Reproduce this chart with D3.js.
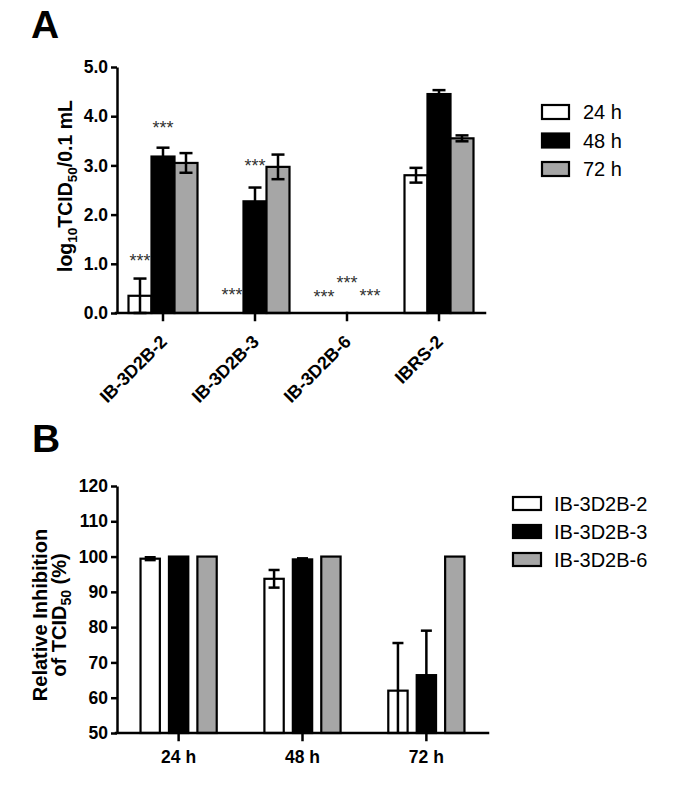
<!DOCTYPE html>
<html><head><meta charset="utf-8">
<script src="https://cdn.jsdelivr.net/npm/d3@7"></script>
<style>
body{margin:0;background:#fff}
svg{display:block}
text{font-family:"Liberation Sans",Arial,Helvetica,sans-serif}
</style>
</head><body>
<svg id="chart" width="685" height="787"></svg>
<script>
// ---------- Panel A data ----------
const categoriesA = ["IB-3D2B-2", "IB-3D2B-3", "IB-3D2B-6", "IBRS-2"];
const seriesA = ["24 h", "48 h", "72 h"];
const valuesA_24h = [0.35, 0.00, 0.00, 2.80];
const valuesA_48h = [3.18, 2.27, 0.00, 4.45];
const valuesA_72h = [3.05, 2.97, 0.00, 3.55];
const errorsA_24h = [0.35, 0.00, 0.00, 0.15];
const errorsA_48h = [0.18, 0.28, 0.00, 0.08];
const errorsA_72h = [0.20, 0.25, 0.00, 0.06];
const ticksA = [0, 1, 2, 3, 4, 5];
// significance marks: category index, series index, level (log10 units)
const starsA = [[0, 0, 1.14], [0, 1, 3.84], [1, 0, 0.45], [1, 1, 3.07], [2, 0, 0.41], [2, 1, 0.69], [2, 2, 0.43]];

// ---------- Panel B data ----------
const categoriesB = ["24 h", "48 h", "72 h"];
const seriesB = ["IB-3D2B-2", "IB-3D2B-3", "IB-3D2B-6"];
const valuesB_2 = [99.4, 93.7, 62.0];
const valuesB_3 = [100.0, 99.2, 66.4];
const valuesB_6 = [100.0, 100.0, 100.0];
const errorsB_2 = [0.4, 2.5, 13.5];
const errorsB_3 = [0.0, 0.3, 12.6];
const errorsB_6 = [0.0, 0.0, 0.0];
const ticksB = [50, 60, 70, 80, 90, 100, 110, 120];

const fills = ["#ffffff", "#000000", "#a6a6a6"];

const svg = d3.select("#chart");

function drawPanel(cfg) {
  const g = svg.append("g");
  const x0 = d3.scaleBand().domain(cfg.categories).range([cfg.left, cfg.right])
    .paddingInner(cfg.padIn).paddingOuter(cfg.padOut);
  const x1 = d3.scaleBand().domain(d3.range(cfg.series.length)).range([0, x0.bandwidth()])
    .paddingInner(cfg.subPad).paddingOuter(0);
  const y = d3.scaleLinear().domain(cfg.domain).range([cfg.bottom, cfg.top]);

  const data = [];
  cfg.categories.forEach((c, i) => {
    cfg.series.forEach((s, j) => {
      data.push({c, i, j, v: cfg.values[j][i], e: cfg.errors[j][i]});
    });
  });

  // bars
  g.selectAll("rect.bar").data(data).join("rect")
    .attr("class", "bar")
    .attr("x", d => x0(d.c) + x1(d.j))
    .attr("width", x1.bandwidth())
    .attr("y", d => y(Math.max(d.v, cfg.domain[0])))
    .attr("height", d => Math.max(0, y(cfg.domain[0]) - y(Math.max(d.v, cfg.domain[0]))))
    .attr("fill", d => fills[d.j])
    .attr("stroke", "#000")
    .attr("stroke-width", 2.2)
    .attr("visibility", d => d.v > cfg.domain[0] ? "visible" : "hidden");

  // error bars
  const eb = data.filter(d => d.e > 0);
  const eg = g.append("g").attr("stroke", "#000").attr("stroke-width", 2.5).attr("fill", "none");
  eb.forEach(d => {
    const cx = x0(d.c) + x1(d.j) + x1.bandwidth() / 2;
    const hi = d.v + d.e, lo = Math.max(d.v - d.e, cfg.domain[0]);
    eg.append("line").attr("x1", cx).attr("x2", cx).attr("y1", y(lo)).attr("y2", y(hi));
    eg.append("line").attr("x1", cx - cfg.cap / 2).attr("x2", cx + cfg.cap / 2).attr("y1", y(hi)).attr("y2", y(hi));
    if (d.v - d.e >= cfg.domain[0]) {
      eg.append("line").attr("x1", cx - cfg.cap / 2).attr("x2", cx + cfg.cap / 2).attr("y1", y(lo)).attr("y2", y(lo));
    }
  });

  // axes
  const yAxis = d3.axisLeft(y).tickValues(cfg.ticks).tickFormat(cfg.fmt)
    .tickSize(6).tickSizeOuter(0).tickPadding(3);
  const ya = g.append("g").attr("transform", `translate(${cfg.left},0)`).call(yAxis);
  ya.attr("font-family", null).attr("font-size", null);
  ya.selectAll("text").attr("font-size", 17.5).attr("font-weight", "bold").attr("fill", "#000");
  ya.selectAll("line,path").attr("stroke", "#000").attr("stroke-width", 2.5);

  const xAxis = d3.axisBottom(x0).tickSize(7).tickSizeOuter(0).tickFormat("");
  const xa = g.append("g").attr("transform", `translate(0,${cfg.bottom})`).call(xAxis);
  xa.select("path.domain").attr("d", `M${cfg.left - 1},0H${cfg.right}`);
  xa.selectAll("line,path").attr("stroke", "#000").attr("stroke-width", 2.5).attr("stroke-linecap", "square");

  return {g, x0, x1, y};
}

// ---------- Panel A ----------
const A = drawPanel({
  categories: categoriesA, series: seriesA,
  values: [valuesA_24h, valuesA_48h, valuesA_72h],
  errors: [errorsA_24h, errorsA_48h, errorsA_72h],
  left: 117, right: 485, top: 67, bottom: 313,
  padIn: 0.25, padOut: 0.125, subPad: 0,
  domain: [0, 5], ticks: ticksA, fmt: d3.format(".1f"), cap: 13
});

// x labels rotated
A.g.selectAll("text.xl").data(categoriesA).join("text")
  .attr("class", "xl")
  .attr("transform", d => `translate(${A.x0(d) + A.x0.bandwidth() / 2 + 5},${343}) rotate(-45)`)
  .attr("text-anchor", "end")
  .attr("font-size", 18).attr("font-weight", "bold")
  .text(d => d);

// significance stars
A.g.selectAll("text.star").data(starsA).join("text")
  .attr("class", "star")
  .attr("x", d => A.x0(categoriesA[d[0]]) + A.x1(d[1]) + A.x1.bandwidth() / 2)
  .attr("y", d => A.y(d[2]) + 10)
  .attr("text-anchor", "middle")
  .attr("font-size", 18).attr("fill", "#333")
  .text("***");

// y title A
const tA = svg.append("text")
  .attr("transform", "translate(72,186) rotate(-90)")
  .attr("text-anchor", "middle")
  .attr("font-size", 19.5).attr("font-weight", "bold");
tA.append("tspan").text("log");
tA.append("tspan").attr("font-size", 13.5).attr("dy", 5).text("10");
tA.append("tspan").attr("dy", -5).text("TCID");
tA.append("tspan").attr("font-size", 13.5).attr("dy", 5).text("50");
tA.append("tspan").attr("dy", -5).text("/0.1 mL");

// legend A
const legA = svg.append("g");
seriesA.forEach((s, j) => {
  const cy = 112 + j * 28.5;
  legA.append("rect").attr("x", 542).attr("y", cy - 7).attr("width", 27).attr("height", 14)
    .attr("fill", fills[j]).attr("stroke", "#000").attr("stroke-width", 2.2);
  legA.append("text").attr("x", 583).attr("y", cy + 7).attr("font-size", 20).text(s);
});

svg.append("text").attr("x", 31).attr("y", 38).attr("font-size", 39).attr("font-weight", "bold").text("A");

// ---------- Panel B ----------
const B = drawPanel({
  categories: categoriesB, series: seriesB,
  values: [valuesB_2, valuesB_3, valuesB_6],
  errors: [errorsB_2, errorsB_3, errorsB_6],
  left: 117, right: 488, top: 486, bottom: 733,
  padIn: 0.385, padOut: 0.19, subPad: 0.32,
  domain: [50, 120], ticks: ticksB, fmt: d3.format("d"), cap: 11
});

B.g.selectAll("text.xl").data(categoriesB).join("text")
  .attr("class", "xl")
  .attr("x", d => B.x0(d) + B.x0.bandwidth() / 2)
  .attr("y", 763)
  .attr("text-anchor", "middle")
  .attr("font-size", 17.5).attr("font-weight", "bold")
  .text(d => d);

const tB = svg.append("text")
  .attr("transform", "translate(46.5,615) rotate(-90)")
  .attr("text-anchor", "middle")
  .attr("font-size", 20).attr("font-weight", "bold");
tB.append("tspan").text("Relative Inhibition");
const tB2 = svg.append("text")
  .attr("transform", "translate(65.5,615) rotate(-90)")
  .attr("text-anchor", "middle")
  .attr("font-size", 20).attr("font-weight", "bold");
tB2.append("tspan").text("of TCID");
tB2.append("tspan").attr("font-size", 14).attr("dy", 5).text("50");
tB2.append("tspan").attr("dy", -5).text(" (%)");

const legB = svg.append("g");
seriesB.forEach((s, j) => {
  const cy = 503.5 + j * 28;
  legB.append("rect").attr("x", 513).attr("y", cy - 6.5).attr("width", 28).attr("height", 13)
    .attr("fill", fills[j]).attr("stroke", "#000").attr("stroke-width", 2.2);
  legB.append("text").attr("x", 554).attr("y", cy + 7).attr("font-size", 20).text(s);
});

svg.append("text").attr("x", 32).attr("y", 452).attr("font-size", 39).attr("font-weight", "bold").text("B");
</script>
</body></html>
